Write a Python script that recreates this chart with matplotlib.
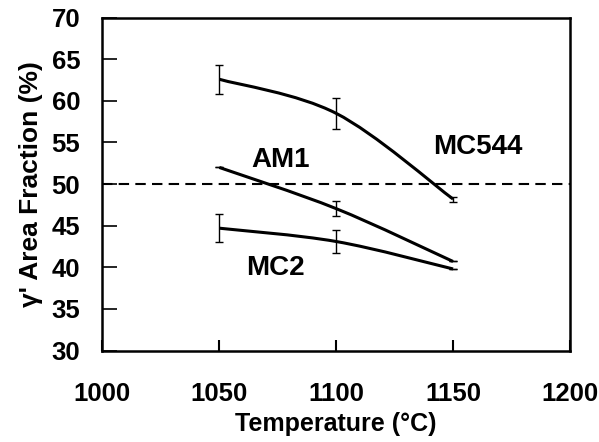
import matplotlib
matplotlib.use("Agg")
import matplotlib.pyplot as plt
from matplotlib.path import Path
from matplotlib.patches import PathPatch

plt.rcParams["font.family"] = ["Liberation Sans", "DejaVu Sans"]
plt.rcParams["font.weight"] = "bold"

temps = [1050, 1100, 1150]
mc544 = [62.6, 58.5, 48.2]
mc544_err = [1.75, 1.9, 0.3]
am1 = [52.0, 47.05, 40.7]
am1_err = [0.0, 0.9, 0.0]
mc2 = [44.7, 43.1, 39.8]
mc2_err = [1.65, 1.4, 0.0]

labels = ["MC544", "AM1", "MC2"]
label_pos = [(1160.5, 54.4), (1076, 52.9), (1074, 39.9)]

x_ticks = [1000, 1050, 1100, 1150, 1200]
y_ticks = [30, 35, 40, 45, 50, 55, 60, 65, 70]
ref_level = 50


def smooth_path(xs, ys, t=1 / 6):
    # Excel-like smoothed line through the points using cubic Bezier segments
    pts = list(zip(xs, ys))
    verts = [pts[0]]
    codes = [Path.MOVETO]
    n = len(pts)
    for i in range(n - 1):
        p0 = pts[i - 1] if i > 0 else pts[i]
        p1 = pts[i]
        p2 = pts[i + 1]
        p3 = pts[i + 2] if i + 2 < n else pts[i + 1]
        c1 = (p1[0] + (p2[0] - p0[0]) * t, p1[1] + (p2[1] - p0[1]) * t)
        c2 = (p2[0] - (p3[0] - p1[0]) * t, p2[1] - (p3[1] - p1[1]) * t)
        verts += [c1, c2, p2]
        codes += [Path.CURVE4] * 3
    return Path(verts, codes)


fig = plt.figure(figsize=(5.99, 4.42), dpi=100)
ax = fig.add_axes([0.171, 0.207, 0.7805, 0.753])

for ys, err in [(mc544, mc544_err), (am1, am1_err), (mc2, mc2_err)]:
    ax.add_patch(PathPatch(smooth_path(temps, ys), fill=False,
                           edgecolor="black", linewidth=2.2, capstyle="butt"))
    ax.errorbar(temps, ys, yerr=err, fmt="none", ecolor="black",
                elinewidth=1.0, capsize=3, capthick=1.0)

ax.axhline(ref_level, color="black", linewidth=1.5, linestyle=(0, (5, 3)))

for text, (tx, ty) in zip(labels, label_pos):
    ax.text(tx, ty, text, ha="center", va="center", fontsize=20,
            fontweight="bold")

ax.set_xlim(1000, 1200)
ax.set_ylim(30, 70)
ax.set_xticks(x_ticks)
ax.set_yticks(y_ticks)
ax.tick_params(axis="y", direction="in", length=11, width=1.2,
               labelsize=18.5, pad=16)
ax.tick_params(axis="x", direction="in", length=8, width=1.5,
               labelsize=18.5, pad=23)
for label in ax.get_xticklabels() + ax.get_yticklabels():
    label.set_fontweight("bold")
for spine in ax.spines.values():
    spine.set_linewidth(1.8)

ax.set_xlabel("Temperature (°C)", fontsize=18, fontweight="bold",
              labelpad=4)
ax.set_ylabel("γ' Area Fraction (%)", fontsize=19, fontweight="bold",
              labelpad=6)

fig.savefig("out.png", dpi=100)
